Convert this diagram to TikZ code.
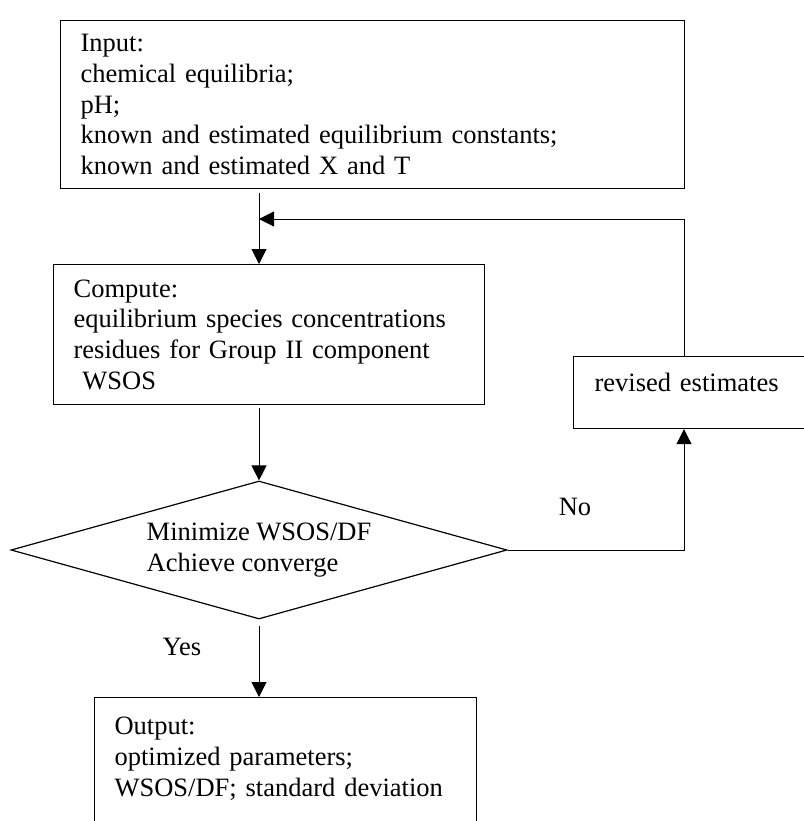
\documentclass[tikz,border=0pt]{standalone}
\usepackage{fontspec}
\setmainfont{Liberation Serif}
\usetikzlibrary{shapes.geometric,arrows.meta}

\tikzset{
  box/.style={draw, line width=1.2pt, rectangle, anchor=north west, align=left, inner xsep=20pt,
    font=\fontsize{26.5pt}{30.7pt}\selectfont},
  arr/.style={line width=1pt, -{Triangle[length=15pt,width=15pt]}},
  lab/.style={font=\fontsize{26.5pt}{30.7pt}\selectfont}
}

\begin{document}
\begin{tikzpicture}[x=1pt,y=1pt,yscale=-1,xscale=1]
\useasboundingbox (0,0) rectangle (803,821);

%Shape: Rectangle [input]
\node[box, text width=584pt, minimum height=168pt] (input) at (60,20)
  {Input:\\chemical equilibria;\\pH;\\known and estimated equilibrium constants;\\known and estimated X and T};
%Shape: Rectangle [compute]
\node[box, text width=391pt, minimum height=140pt] (compute) at (53,264)
  {Compute:\\equilibrium species concentrations\\residues for Group II component\\\ WSOS};
%Shape: Diamond [check]
\node[draw, line width=1.2pt, diamond, aspect=3.6, inner sep=0pt, minimum width=496pt, minimum height=138pt,
  align=left, lab] (check) at (259,550) {Minimize WSOS/DF\\Achieve converge};
%Shape: Rectangle [revise]
\node[box, text width=218pt, inner xsep=21pt, inner ysep=0pt, text height=35pt, text depth=37pt] (revise) at (573,356)
  {revised estimates};
%Shape: Rectangle [output]
\node[box, text width=342pt, inner ysep=0pt, text height=37pt, text depth=160pt] (output) at (94,697)
  {Output:\\optimized parameters;\\WSOS/DF; standard deviation};

%Coordinates
\coordinate (inlow) at (259,193);
\coordinate (join) at (259,219);
\coordinate (turn) at (684,219);
\coordinate (cmplow) at (259,408);
\coordinate (chklow) at (259,626);

%Straight Lines
\draw[arr] (inlow) -- (compute.north -| inlow);
\draw[arr] (revise.north -| turn) -- (turn) -- (join);
\draw[arr] (cmplow) -- (check.north);
\draw[arr] (chklow) -- (output.north -| chklow);
\draw[arr] (check.east) -| (revise.south -| turn);

% Text Node
\node[lab] (yes) at (182,647) {Yes};
% Text Node
\node[lab] (no) at (575,507) {No};

\end{tikzpicture}
\end{document}
